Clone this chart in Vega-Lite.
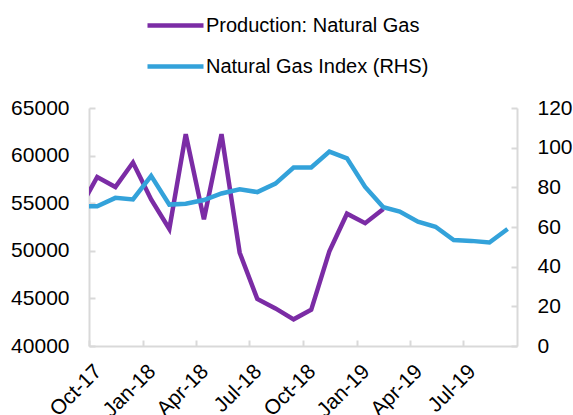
{
  "$schema": "https://vega.github.io/schema/vega-lite/v6.json",
  "autosize": {"type": "none"},
  "padding": {"left": 89, "top": 108, "right": 56, "bottom": 69},
  "width": 428,
  "height": 238,
  "background": "white",
  "config": {
    "view": {"stroke": null},
    "font": "Liberation Sans",
    "axis": {
      "grid": false,
      "domainColor": "#d9d9d9",
      "domainWidth": 2,
      "tickColor": "#d9d9d9",
      "tickWidth": 2,
      "tickSize": -6,
      "labelFont": "Liberation Sans",
      "labelFontSize": 21,
      "labelColor": "#000000",
      "title": null
    }
  },
  "data": {
    "values": [
      {"date": "2017-09-15", "series": "Production: Natural Gas", "value": 54400},
      {"date": "2017-10-15", "series": "Production: Natural Gas", "value": 57750},
      {"date": "2017-11-15", "series": "Production: Natural Gas", "value": 56700},
      {"date": "2017-12-15", "series": "Production: Natural Gas", "value": 59270},
      {"date": "2018-01-15", "series": "Production: Natural Gas", "value": 55400},
      {"date": "2018-02-15", "series": "Production: Natural Gas", "value": 52300},
      {"date": "2018-03-15", "series": "Production: Natural Gas", "value": 62250},
      {"date": "2018-04-15", "series": "Production: Natural Gas", "value": 53300},
      {"date": "2018-05-15", "series": "Production: Natural Gas", "value": 62250},
      {"date": "2018-06-15", "series": "Production: Natural Gas", "value": 49800},
      {"date": "2018-07-15", "series": "Production: Natural Gas", "value": 44950},
      {"date": "2018-08-15", "series": "Production: Natural Gas", "value": 43950},
      {"date": "2018-09-15", "series": "Production: Natural Gas", "value": 42800},
      {"date": "2018-10-15", "series": "Production: Natural Gas", "value": 43800},
      {"date": "2018-11-15", "series": "Production: Natural Gas", "value": 49950},
      {"date": "2018-12-15", "series": "Production: Natural Gas", "value": 53900},
      {"date": "2019-01-15", "series": "Production: Natural Gas", "value": 52900},
      {"date": "2019-02-15", "series": "Production: Natural Gas", "value": 54400},
      {"date": "2017-09-15", "series": "Natural Gas Index (RHS)", "value": 70.5},
      {"date": "2017-10-15", "series": "Natural Gas Index (RHS)", "value": 70.5},
      {"date": "2017-11-15", "series": "Natural Gas Index (RHS)", "value": 74.7},
      {"date": "2017-12-15", "series": "Natural Gas Index (RHS)", "value": 73.9},
      {"date": "2018-01-15", "series": "Natural Gas Index (RHS)", "value": 85.8},
      {"date": "2018-02-15", "series": "Natural Gas Index (RHS)", "value": 71.3},
      {"date": "2018-03-15", "series": "Natural Gas Index (RHS)", "value": 71.7},
      {"date": "2018-04-15", "series": "Natural Gas Index (RHS)", "value": 73.6},
      {"date": "2018-05-15", "series": "Natural Gas Index (RHS)", "value": 76.9},
      {"date": "2018-06-15", "series": "Natural Gas Index (RHS)", "value": 79.0},
      {"date": "2018-07-15", "series": "Natural Gas Index (RHS)", "value": 77.6},
      {"date": "2018-08-15", "series": "Natural Gas Index (RHS)", "value": 81.9},
      {"date": "2018-09-15", "series": "Natural Gas Index (RHS)", "value": 90.0},
      {"date": "2018-10-15", "series": "Natural Gas Index (RHS)", "value": 90.0},
      {"date": "2018-11-15", "series": "Natural Gas Index (RHS)", "value": 98.0},
      {"date": "2018-12-15", "series": "Natural Gas Index (RHS)", "value": 94.6},
      {"date": "2019-01-15", "series": "Natural Gas Index (RHS)", "value": 80.2},
      {"date": "2019-02-15", "series": "Natural Gas Index (RHS)", "value": 70.0},
      {"date": "2019-03-15", "series": "Natural Gas Index (RHS)", "value": 67.8},
      {"date": "2019-04-15", "series": "Natural Gas Index (RHS)", "value": 62.7},
      {"date": "2019-05-15", "series": "Natural Gas Index (RHS)", "value": 60.1},
      {"date": "2019-06-15", "series": "Natural Gas Index (RHS)", "value": 53.4},
      {"date": "2019-07-15", "series": "Natural Gas Index (RHS)", "value": 53.0},
      {"date": "2019-08-15", "series": "Natural Gas Index (RHS)", "value": 52.2},
      {"date": "2019-09-15", "series": "Natural Gas Index (RHS)", "value": 59.0}
    ]
  },
  "encoding": {
    "x": {
      "field": "date",
      "type": "temporal",
      "scale": {
        "type": "utc",
        "domain": [
          {"year": 2017, "month": 10, "date": 1, "utc": true},
          {"year": 2019, "month": 10, "date": 1, "utc": true}
        ]
      },
      "axis": {
        "values": [
          {"year": 2017, "month": 10, "date": 1, "utc": true},
          {"year": 2018, "month": 1, "date": 1, "utc": true},
          {"year": 2018, "month": 4, "date": 1, "utc": true},
          {"year": 2018, "month": 7, "date": 1, "utc": true},
          {"year": 2018, "month": 10, "date": 1, "utc": true},
          {"year": 2019, "month": 1, "date": 1, "utc": true},
          {"year": 2019, "month": 4, "date": 1, "utc": true},
          {"year": 2019, "month": 7, "date": 1, "utc": true}
        ],
        "labelExpr": "utcFormat(datum.value, '%b-%y')",
        "labelOverlap": false,
        "labelAngle": -45,
        "labelAlign": "right",
        "labelBaseline": "middle",
        "labelOffset": 9,
        "labelPadding": 28
      }
    },
    "color": {
      "field": "series",
      "type": "nominal",
      "scale": {
        "domain": ["Production: Natural Gas", "Natural Gas Index (RHS)"],
        "range": ["#7b2ca5", "#33a2da"]
      },
      "legend": {
        "orient": "none",
        "legendX": 56,
        "legendY": -113,
        "title": null,
        "symbolType": "stroke",
        "symbolSize": 3136,
        "symbolStrokeWidth": 4.5,
        "labelFont": "Liberation Sans",
        "labelFontSize": 20,
        "labelColor": "#000000",
        "labelLimit": 400,
        "labelOffset": 0,
        "rowPadding": -24
      }
    }
  },
  "layer": [
    {
      "transform": [{"filter": "datum.series === 'Production: Natural Gas'"}],
      "mark": {"type": "line", "strokeWidth": 4.5, "clip": true},
      "encoding": {
        "y": {
          "field": "value",
          "type": "quantitative",
          "scale": {"domain": [40000, 65000], "zero": false, "nice": false},
          "axis": {
            "orient": "left",
            "values": [40000, 45000, 50000, 55000, 60000, 65000],
            "format": "d",
            "labelPadding": 26
          }
        }
      }
    },
    {
      "transform": [{"filter": "datum.series === 'Natural Gas Index (RHS)'"}],
      "mark": {"type": "line", "strokeWidth": 4.5, "clip": true},
      "encoding": {
        "y": {
          "field": "value",
          "type": "quantitative",
          "scale": {"domain": [0, 120], "nice": false},
          "axis": {
            "orient": "right",
            "values": [0, 20, 40, 60, 80, 100, 120],
            "format": "d",
            "labelPadding": 26
          }
        }
      }
    }
  ],
  "resolve": {"scale": {"y": "independent"}}
}
